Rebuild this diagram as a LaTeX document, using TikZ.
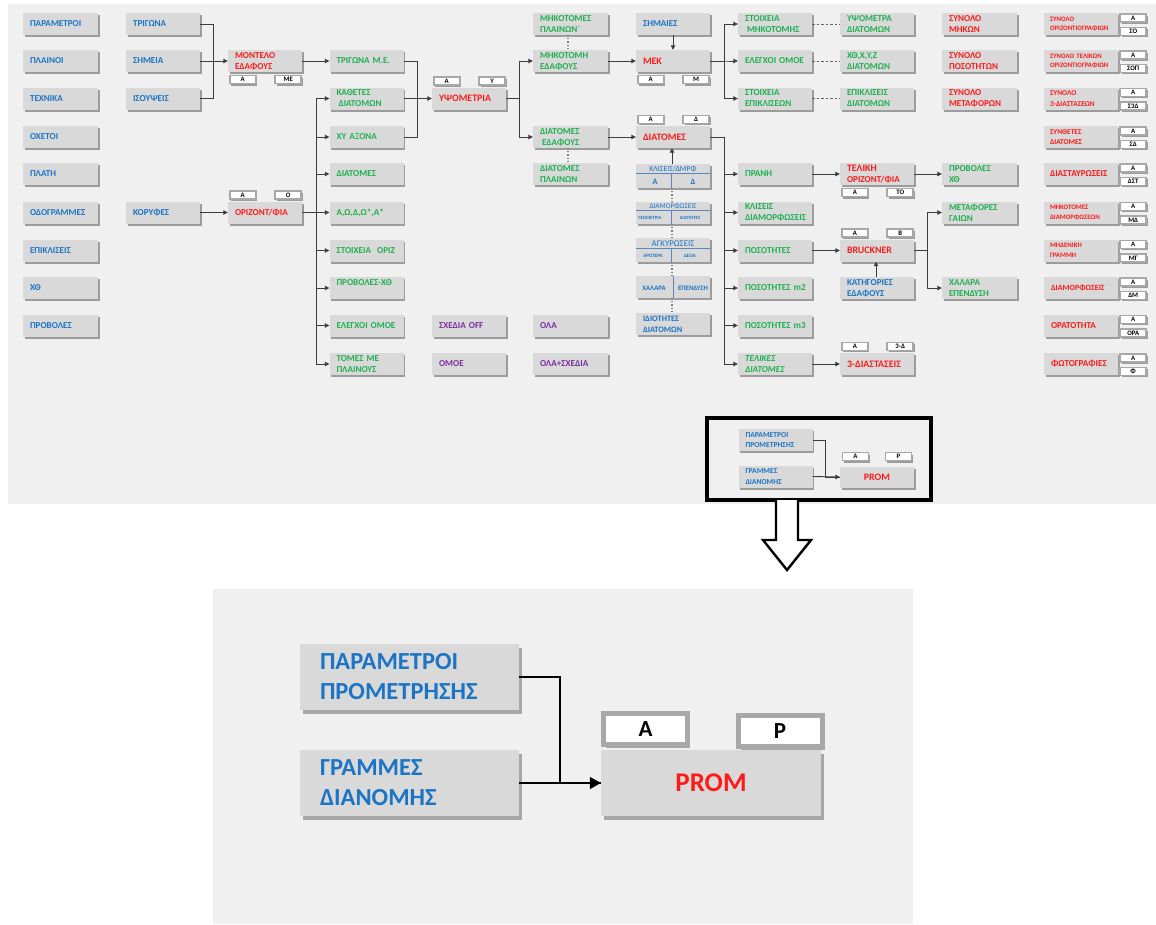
\documentclass[tikz,border=0pt]{standalone}
\usepackage{fontspec}
\setmainfont{Carlito}[BoldFont={Carlito Bold},ItalicFont={Carlito Italic},BoldItalicFont={Carlito Bold Italic}]
\usetikzlibrary{arrows.meta,shadows,calc}
\definecolor{bgp}{HTML}{F0F0F0}
\definecolor{boxg}{HTML}{D9D9D9}
\definecolor{cblu}{HTML}{1B74C5}
\definecolor{cgrn}{HTML}{1EB050}
\definecolor{cred}{HTML}{FF1A1A}
\definecolor{cpur}{HTML}{7A2FA3}
\definecolor{lnc}{HTML}{3C3C3C}
\definecolor{tagb}{HTML}{A8A8A8}
\definecolor{tbl}{HTML}{5B86C2}
\newcommand\fsn{\fontsize{9.1}{11}\selectfont\bfseries}
\newcommand\fsr{\fontsize{9.9}{11}\selectfont\bfseries}
\newcommand\fss{\fontsize{6.8}{9.5}\selectfont\bfseries}
\newcommand\tagsbelow[3]{%
  \node[tagbox] (#1ta) at ($(#1.south west)+(15,7.5)$) {#2};
  \node[tagbox] (#1tb) at ($(#1.south east)+(-14,7.5)$) {#3};}
\newcommand\tagsabove[3]{%
  \node[tagbox] (#1ta) at ($(#1.north west)+(15,-6.5)$) {#2};
  \node[tagbox] (#1tb) at ($(#1.north east)+(-14,-6.5)$) {#3};}
\newcommand\tagsright[3]{%
  \node[tagbox] (#1ta) at ($(#1.north east)+(15,5)$) {#2};
  \node[tagbox] (#1tb) at ($(#1.north east)+(15,18.5)$) {#3};}
\tikzset{
  shd/.style={drop shadow={shadow xshift=1.5pt, shadow yshift=-2pt, opacity=0.35, fill=black}},
  bx/.style={rectangle, fill=boxg, minimum height=22, inner xsep=7, inner ysep=0,
     text width=60, align=left, font=\fsn, shd},
  wide/.style={text width=61},
  blu/.style={bx, text=cblu},
  grn/.style={bx, text=cgrn},
  rd/.style={bx, text=cred},
  pur/.style={bx, text=cpur},
  tagbox/.style={rectangle, draw=tagb, line width=1.5, fill=white, minimum width=26,
     minimum height=8, inner sep=0, font=\fontsize{6.8}{7}\selectfont\bfseries, shd},
  tbox/.style={rectangle, fill=boxg, minimum width=74, inner sep=0, shd},
  tbt/.style={inner sep=0, text=cblu},
  tline/.style={draw=tbl, line width=0.9},
  ln/.style={draw=lnc, line width=0.9},
  arr/.style={ln, -{Triangle[length=4.5pt,width=4.5pt]}},
  dsh/.style={draw=lnc!80, line width=0.8, dashed, dash pattern=on 2.5pt off 2pt},
  dotl/.style={draw=gray, line width=1.1, dotted},
  bigbx/.style={rectangle, fill=boxg, minimum height=66, inner xsep=20, inner ysep=0,
     text width=179, align=left, font=\fontsize{24.5}{30}\selectfont\bfseries, text=cblu,
     drop shadow={shadow xshift=3pt, shadow yshift=-4pt, opacity=0.3, fill=black}},
  bigtag/.style={rectangle, draw=tagb, line width=5, fill=white, minimum width=84,
     minimum height=31, inner sep=0, font=\fontsize{23}{24}\selectfont\bfseries,
     drop shadow={shadow xshift=2.5pt, shadow yshift=-3pt, opacity=0.3, fill=black}},
}
\begin{document}
\begin{tikzpicture}[x=1pt,y=-1pt]
\useasboundingbox (0,0) rectangle (1156,924);
\fill[white] (0,0) rectangle (1156,924);
\fill[bgp] (8,4) rectangle (1156,504);
\fill[bgp] (213,589) rectangle (913,924);

% column 0
\node[blu,wide] (p0) at (60.5,24) {ΠΑΡΑΜΕΤΡΟΙ};
\node[blu,wide] (p1) at (60.5,61) {ΠΛΑΙΝΟΙ};
\node[blu,wide] (p2) at (60.5,98.5) {ΤΕΧΝΙΚΑ};
\node[blu,wide] (p3) at (60.5,137) {ΟΧΕΤΟΙ};
\node[blu,wide] (p4) at (60.5,174) {ΠΛΑΤΗ};
\node[blu,wide] (p5) at (60.5,212.5) {ΟΔΟΓΡΑΜΜΕΣ};
\node[blu,wide] (p6) at (60.5,250.5) {ΕΠΙΚΛΙΣΕΙΣ};
\node[blu,wide] (p7) at (60.5,288) {ΧΘ};
\node[blu,wide] (p8) at (60.5,325.5) {ΠΡΟΒΟΛΕΣ};

% column 1
\node[blu] (tri) at (163,24) {ΤΡΙΓΩΝΑ};
\node[blu] (shm) at (163,61) {ΣΗΜΕΙΑ};
\node[blu] (iso) at (163,98.5) {ΙΣΟΥΨΕΙΣ};
\node[blu] (kor) at (163,212.5) {ΚΟΡΥΦΕΣ};

% column 2
\node[rd] (mont) at (265,61) {ΜΟΝΤΕΛΟ\\ΕΔΑΦΟΥΣ};
\tagsbelow{mont}{Α}{ΜΕ}
\node[rd] (oriz) at (265,212.5) {ΟΡΙΖΟΝΤ/ΦΙΑ};
\tagsabove{oriz}{Α}{Ο}

% column 3
\node[grn] (tme) at (366.5,61) {\mbox{ΤΡΙΓΩΝΑ Μ.Ε.}};
\node[grn] (kath) at (366.5,98.5) {ΚΑΘΕΤΕΣ\\\hspace{2pt}ΔΙΑΤΟΜΩΝ};
\node[grn] (xy) at (366.5,137) {\mbox{ΧΥ ΑΞΟΝΑ}};
\node[grn] (diat3) at (366.5,174) {ΔΙΑΤΟΜΕΣ};
\node[grn] (aw) at (366.5,212.5) {Α,Ω,Δ,Ω*,Α*};
\node[grn] (stoix) at (366.5,250.5) {\mbox{ΣΤΟΙΧΕΙΑ~~ΟΡΙΖ}};
\node[grn] (prob) at (366.5,288) {ΠΡΟΒΟΛΕΣ-ΧΘ\\\mbox{}};
\node[grn] (eleg) at (366.5,325.5) {\mbox{ΕΛΕΓΧΟΙ ΟΜΟΕ}};
\node[grn] (tomes) at (366.5,364) {ΤΟΜΕΣ ΜΕ\\ΠΛΑΙΝΟΥΣ};

% column 4
\node[rd,font=\fsr] (ypso) at (469,98.5) {ΥΨΟΜΕΤΡΙΑ};
\tagsabove{ypso}{Α}{Υ}
\node[pur] (sxed) at (469,325.5) {\mbox{ΣΧΕΔΙΑ OFF}};
\node[pur] (omoe) at (469,364) {ΟΜΟΕ};

% column 5
\node[grn,wide] (mhkp) at (570.5,24) {ΜΗΚΟΤΟΜΕΣ\\ΠΛΑΙΝΩΝ΄};
\node[grn,wide] (mhk) at (570.5,61) {ΜΗΚΟΤΟΜΗ\\ΕΔΑΦΟΥΣ};
\node[grn,wide] (diated) at (570.5,137) {ΔΙΑΤΟΜΕΣ\\\hspace{2pt}ΕΔΑΦΟΥΣ};
\node[grn,wide] (diatpl) at (570.5,174) {ΔΙΑΤΟΜΕΣ\\ΠΛΑΙΝΩΝ};
\node[pur,wide] (ola) at (570.5,325.5) {ΟΛΑ};
\node[pur,wide] (olas) at (570.5,364) {ΟΛΑ+ΣΧΕΔΙΑ};

% column 6
\node[blu] (shm6) at (673,24) {ΣΗΜΑΙΕΣ};
\node[rd,font=\fsr] (mek) at (673,61) {ΜΕΚ};
\tagsbelow{mek}{Α}{Μ}
\node[rd,font=\fsr] (diat6) at (673,137) {ΔΙΑΤΟΜΕΣ};
\tagsabove{diat6}{Α}{Δ}

\node[tbox,minimum height=24] (t1) at (673,176) {};
\node[tbt,font=\fontsize{7.8}{8}\selectfont] (t1h) at (673,169) {ΚΛΙΣΕΙΣ/ΔΜΡΦ};
\draw[tline] ($(t1.north west)+(0,10)$) -- ($(t1.north east)+(0,10)$);
\draw[tline] ($(t1.north)+(-2,10)$) -- ($(t1.south)+(-2,0)$);
\node[tbt,font=\fontsize{8.2}{9}\selectfont\bfseries] (t1a) at (655,181.5) {Α};
\node[tbt,font=\fontsize{8.2}{9}\selectfont\bfseries] (t1b) at (693,181.5) {Δ};

\node[tbox,minimum height=22] (t2) at (673,213) {};
\node[tbt,font=\fontsize{7.2}{8}\selectfont] (t2h) at (673,206.5) {ΔΙΑΜΟΡΦΩΣΕΙΣ};
\draw[tline] ($(t2.north west)+(0,9)$) -- ($(t2.north east)+(0,9)$);
\draw[tline] ($(t2.north)+(-2,9)$) -- ($(t2.south)+(-2,0)$);
\node[tbt,font=\fontsize{4.7}{5}\selectfont\bfseries] (t2a) at (650,218) {ΓΕΩΜΕΤΡΙΑ};
\node[tbt,font=\fontsize{4.7}{5}\selectfont\bfseries] (t2b) at (690,218) {ΙΔΙΟΤΗΤΕΣ};

\node[tbox,minimum height=24] (t3) at (673,250) {};
\node[tbt,font=\fontsize{8.8}{9}\selectfont] (t3h) at (673,244) {ΑΓΚΥΡΩΣΕΙΣ};
\draw[tline] ($(t3.north west)+(0,11)$) -- ($(t3.north east)+(0,11)$);
\draw[tline] ($(t3.north)+(-2,11)$) -- ($(t3.south)+(-2,0)$);
\node[tbt,font=\fontsize{4.9}{5}\selectfont\bfseries] (t3a) at (653,255.5) {ΑΡΙΣΤΕΡΑ};
\node[tbt,font=\fontsize{4.9}{5}\selectfont\bfseries] (t3b) at (690,255.5) {ΔΕΞΙΑ};

\node[tbox,minimum height=22] (t4) at (673,287) {};
\draw[tline] (t4.north) -- (t4.south);
\node[tbt,font=\fontsize{6.8}{7}\selectfont\bfseries] (t4a) at (654,288) {ΧΑΛΑΡΑ};
\node[tbt,font=\fontsize{6.8}{7}\selectfont\bfseries] (t4b) at (693,288) {ΕΠΕΝΔΥΣΗ};

\node[blu,font=\fontsize{8.3}{11}\selectfont\bfseries] (idio) at (673,324) {ΙΔΙΟΤΗΤΕΣ\\ΔΙΑΤΟΜΩΝ};

% column 7
\node[grn] (stm) at (775,24) {ΣΤΟΙΧΕΙΑ\\\hspace{2pt}ΜΗΚΟΤΟΜΗΣ};
\node[grn] (elo7) at (775,61) {\mbox{ΕΛΕΓΧΟΙ ΟΜΟΕ}};
\node[grn] (ste) at (775,98.5) {ΣΤΟΙΧΕΙΑ\\ΕΠΙΚΛΙΣΕΩΝ};
\node[grn] (pran) at (775,174) {ΠΡΑΝΗ};
\node[grn] (klis) at (775,212.5) {ΚΛΙΣΕΙΣ\\ΔΙΑΜΟΡΦΩΣΕΙΣ};
\node[grn] (pos) at (775,250.5) {ΠΟΣΟΤΗΤΕΣ};
\node[grn] (pos2) at (775,288) {\mbox{ΠΟΣΟΤΗΤΕΣ m2}};
\node[grn] (pos3) at (775,325.5) {\mbox{ΠΟΣΟΤΗΤΕΣ m3}};
\node[grn,font=\fsn\itshape] (tel) at (775,364) {ΤΕΛΙΚΕΣ\\ΔΙΑΤΟΜΕΣ};

% column 8
\node[grn] (ypd) at (877,24) {ΥΨΟΜΕΤΡΑ\\ΔΙΑΤΟΜΩΝ};
\node[grn] (xthd) at (877,61) {ΧΘ,Χ,Υ,Ζ\\ΔΙΑΤΟΜΩΝ};
\node[grn] (epd) at (877,98.5) {ΕΠΙΚΛΙΣΕΙΣ\\ΔΙΑΤΟΜΩΝ};
\node[rd] (telo) at (877,174) {{\fsr ΤΕΛΙΚΗ}\\ΟΡΙΖΟΝΤ/ΦΙΑ};
\tagsbelow{telo}{Α}{ΤΟ}
\node[rd,font=\fsr] (bruck) at (877,250.5) {BRUCKNER};
\tagsabove{bruck}{Α}{Β}
\node[blu] (kat) at (877,288) {ΚΑΤΗΓΟΡΙΕΣ\\ΕΔΑΦΟΥΣ};
\node[rd,font=\fsr] (d3) at (877,364) {3-ΔΙΑΣΤΑΣΕΙΣ};
\tagsabove{d3}{Α}{3-Δ}

% column 9
\node[rd,wide] (sm) at (979.5,24) {ΣΥΝΟΛΟ\\ΜΗΚΩΝ};
\node[rd,wide] (sp) at (979.5,61) {ΣΥΝΟΛΟ\\ΠΟΣΟΤΗΤΩΝ};
\node[rd,wide] (smt) at (979.5,98.5) {ΣΥΝΟΛΟ\\ΜΕΤΑΦΟΡΩΝ};
\node[grn,wide] (probx) at (979.5,174) {ΠΡΟΒΟΛΕΣ\\ΧΘ};
\node[grn,wide] (meta) at (979.5,212.5) {ΜΕΤΑΦΟΡΕΣ\\ΓΑΙΩΝ};
\node[grn,wide] (xal) at (979.5,288) {ΧΑΛΑΡΑ\\ΕΠΕΝΔΥΣΗ};

% column 10
\node[rd,font=\fss,inner xsep=6,text width=62] (r0) at (1081,24) {ΣΥΝΟΛΟ\\ΟΡΙΖΟΝΤΙΟΓΡΑΦΙΩΝ};
\tagsright{r0}{Α}{ΣΟ}
\node[rd,font=\fss,inner xsep=6,text width=62] (r1) at (1081,61) {\mbox{ΣΥΝΟΛΟ ΤΕΛΙΚΩΝ}\\ΟΡΙΖΟΝΤΙΟΓΡΑΦΙΩΝ};
\tagsright{r1}{Α}{ΣΟΠ}
\node[rd,font=\fontsize{7.4}{10.5}\selectfont\bfseries,inner xsep=6,text width=62] (r2) at (1081,98.5) {ΣΥΝΟΛΟ\\3-ΔΙΑΣΤΑΣΕΩΝ};
\tagsright{r2}{Α}{Σ3Δ}
\node[rd,font=\fontsize{7.4}{10.5}\selectfont\bfseries,inner xsep=6,text width=62] (r3) at (1081,137) {ΣΥΝΘΕΤΕΣ\\ΔΙΑΤΟΜΕΣ};
\tagsright{r3}{Α}{ΣΔ}
\node[rd,inner xsep=6,text width=62] (r4) at (1081,174) {ΔΙΑΣΤΑΥΡΩΣΕΙΣ};
\tagsright{r4}{Α}{ΔΣΤ}
\node[rd,font=\fss,inner xsep=6,text width=62] (r5) at (1081,212.5) {ΜΗΚΟΤΟΜΕΣ\\ΔΙΑΜΟΡΦΩΣΕΩΝ};
\tagsright{r5}{Α}{ΜΔ}
\node[rd,font=\fss,inner xsep=6,text width=62] (r6) at (1081,250.5) {ΜΗΔΕΝΙΚΗ\\ΓΡΑΜΜΗ};
\tagsright{r6}{Α}{ΜΓ}
\node[rd,font=\fontsize{8}{10}\selectfont\bfseries,inner xsep=7,text width=60] (r7) at (1081,288) {ΔΙΑΜΟΡΦΩΣΕΙΣ};
\tagsright{r7}{Α}{ΔΜ}
\node[rd,inner xsep=7,text width=60] (r8) at (1081,325.5) {ΟΡΑΤΟΤΗΤΑ};
\tagsright{r8}{Α}{ΟΡΑ}
\node[rd,inner xsep=7,text width=60] (r9) at (1081,364) {ΦΩΤΟΓΡΑΦΙΕΣ};
\tagsright{r9}{Α}{Φ}

% connectors
\draw[ln] (tri.east) -- ++(13,0) |- (iso.east);
\draw[arr] (shm.east) -- (mont.west);
\draw[arr] (kor.east) -- (oriz.west);
\draw[arr] (mont.east) -- (tme.west);
\draw[ln] (tme.east) -- ++(14,0) |- (xy.east);
\draw[arr] (kath.east) -- (ypso.west);
\draw[arr] (oriz.east) -- (aw.west);
\foreach \t in {kath,xy,diat3,stoix,prob,eleg,tomes}
  \draw[arr] (oriz.east) ++(14,0) |- (\t.west);
\foreach \t in {mhk,diated}
  \draw[arr] (ypso.east) -- ++(13,0) |- (\t.west);
\draw[dotl] ([xshift=-2.5pt]mhkp.south) -- ([xshift=-2.5pt]mhk.north);
\draw[dotl] ([xshift=-2.5pt]diated.south) -- ([xshift=-2.5pt]diatpl.north);
\draw[arr] (mhk.east) -- (mek.west);
\draw[arr] (diated.east) -- (diat6.west);
\draw[arr] (shm6.south) -- (mek.north);
\foreach \t in {stm,elo7,ste}
  \draw[arr] (mek.east) -- ++(14,0) |- (\t.west);
\foreach \a/\b in {stm/ypd,elo7/xthd,ste/epd}
  \draw[dsh] (\a.east) -- (\b.west);
\foreach \t in {pran,klis,pos,pos2,pos3,tel}
  \draw[arr] (diat6.east) -- ++(14,0) |- (\t.west);
\draw[arr] ([xshift=-1pt]t1.north) -- ([xshift=-1pt]diat6.south);
\draw[dotl] ([xshift=-1pt]t1.south) -- ([xshift=-1pt]t2.north);
\draw[dotl] ([xshift=-1pt]t2.south) -- ([xshift=-1pt]t3.north);
\draw[dotl] ([xshift=-1pt]t3.south) -- ([xshift=-1pt]t4.north);
\draw[dotl] ([xshift=-1pt]t4.south) -- ([xshift=-1pt]idio.north);
\draw[arr] (pran.east) -- (telo.west);
\draw[arr] (telo.east) -- (probx.west);
\draw[arr] (pos.east) -- (bruck.west);
\draw[arr] ([xshift=-1pt]kat.north) -- ([xshift=-1pt]bruck.south);
\foreach \t in {meta,xal}
  \draw[arr] (bruck.east) -- ++(13,0) |- (\t.west);
\draw[arr] (tel.east) -- (d3.west);

% framed miniature
\node[blu,font=\fontsize{7.6}{10.5}\selectfont\bfseries] (par) at (775.5,440) {ΠΑΡΑΜΕΤΡΟΙ\\ΠΡΟΜΕΤΡΗΣΗΣ};
\node[blu,font=\fontsize{7.6}{10.5}\selectfont\bfseries] (gra) at (775.5,476.5) {ΓΡΑΜΜΕΣ\\ΔΙΑΝΟΜΗΣ};
\node[rd,font=\fsr,align=center,minimum height=21] (prom) at (877,477) {PROM};
\node[tagbox] (promta) at (855.5,456.5) {Α};
\node[tagbox] (promtb) at (898.5,456.5) {Ρ};
\draw[ln] (par.east) -- ++(13,0) |- (prom.west);
\draw[arr] (gra.east) -- (prom.west);
\draw[line width=3.2] (707,418) rectangle (931,500);

% hollow arrow
\draw[line width=2.4, fill=white, line join=miter]
  (776,500) -- (776,540) -- (763,540) -- (787,570) -- (811,540) -- (798,540) -- (798,500);

% enlarged view
\node[bigbx] (P1) at (409.5,677) {ΠΑΡΑΜΕΤΡΟΙ\\ΠΡΟΜΕΤΡΗΣΗΣ};
\node[bigbx] (G1) at (409.5,783) {ΓΡΑΜΜΕΣ\\ΔΙΑΝΟΜΗΣ};
\node[bigbx, text=cred, align=center, text width=180, font=\fontsize{27}{30}\selectfont\bfseries] (PROM) at (711,783) {PROM};
\node[bigtag] (TA) at (645.5,729) {Α};
\node[bigtag] (TR) at (780,731) {Ρ};
\draw[draw=black, line width=1.8] (P1.east) -- ++(41,0) |- (PROM.west);
\draw[draw=black, line width=1.8, -{Triangle[length=11pt,width=12pt]}] (G1.east) -- (PROM.west);
\end{tikzpicture}
\end{document}
